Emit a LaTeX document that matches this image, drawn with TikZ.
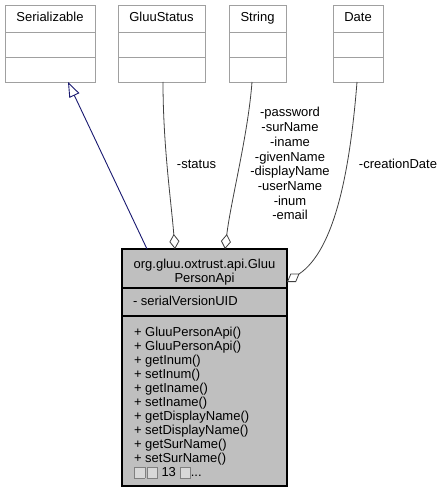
\documentclass[tikz,border=0pt]{standalone}
\usepackage{fontspec}
\setmainfont{Liberation Sans}
\usetikzlibrary{arrows.meta}
\definecolor{boxgray}{HTML}{BFBFBF}
\definecolor{edgegray}{HTML}{404040}
\definecolor{linegray}{HTML}{A0A0A0}
\definecolor{inhblue}{HTML}{191970}
\newcommand\missbox{\raisebox{-1.5pt}{\setlength\fboxsep{0pt}\setlength\fboxrule{0.6pt}\fcolorbox{gray}{boxgray!60}{\rule{0pt}{10pt}\hspace{10pt}}}}
\begin{document}
\begin{tikzpicture}[x=1pt,y=-1pt,
  every node/.style={font=\fontsize{13}{14}\selectfont, inner sep=0pt, outer sep=0pt},
  topbox/.style={draw=linegray, fill=white, line width=0.8pt, minimum height=77pt, anchor=north},
  divline/.style={draw=linegray, line width=0.8pt},
  mainbox/.style={draw=black, fill=boxgray, line width=1.1pt, minimum width=165pt, minimum height=237pt, anchor=north west},
  maindiv/.style={draw=black, line width=1.1pt},
  agg/.style={draw=edgegray, line width=0.8pt, -{Diamond[fill=white, length=15pt, width=10pt, line width=0.8pt]}},
  inh/.style={draw=inhblue, line width=0.9pt, -{Triangle[open, length=15pt, width=11pt, line width=0.9pt]}}
]
\useasboundingbox (0,0) rectangle (443,492);

% top boxes
\node[topbox, minimum width=90pt] (ser) at (50,5) {};
\node[topbox, minimum width=87pt] (gs) at (161.5,5) {};
\node[topbox, minimum width=57pt] (str) at (257.5,5) {};
\node[topbox, minimum width=50pt] (date) at (358,5) {};
\foreach \b in {ser,gs,str,date}{
  \draw[divline] ([yshift=-27pt]\b.north west) -- ([yshift=-27pt]\b.north east);
  \draw[divline] ([yshift=-52pt]\b.north west) -- ([yshift=-52pt]\b.north east);
}
\node[anchor=base] (serT) at (50,21.5) {Serializable};
\node[anchor=base] (gsT) at (161.5,21.5) {GluuStatus};
\node[anchor=base] (strT) at (257.5,21.5) {String};
\node[anchor=base] (dateT) at (358,21.5) {Date};

% main box
\node[mainbox] (main) at (122,249) {};
\draw[maindiv] ([yshift=-39pt]main.north west) -- ([yshift=-39pt]main.north east);
\draw[maindiv] ([yshift=-67pt]main.north west) -- ([yshift=-67pt]main.north east);
\node[anchor=base] (h1) at (204.5,268) {org.gluu.oxtrust.api.Gluu};
\node[anchor=base] (h2) at (204.5,282) {PersonApi};
\node[anchor=base west] (attr) at (133,305) {- serialVersionUID};
\foreach \t [count=\i from 0] in {{+ GluuPersonApi()},{+ GluuPersonApi()},{+ getInum()},{+ setInum()},{+ getIname()},{+ setIname()},{+ getDisplayName()},{+ setDisplayName()},{+ getSurName()},{+ setSurName()}}
  \node[anchor=base west] (m\i) at (134,{336+14*\i}) {\t};
\node[anchor=base west] (more) at (134,476) {\missbox\kern1.5pt\missbox\ 13 \missbox...};

% connectors
\draw[inh] ([xshift=-57.5pt]main.north) -- ([xshift=18pt]ser.south);
\draw[agg] ([xshift=1.5pt]gs.south) .. controls (163,145) and (171,200) .. ([xshift=-29.5pt]main.north);
\draw[agg] ([xshift=-5.5pt]str.south) .. controls (248,135) and (231,200) .. ([xshift=20.5pt]main.north);
\draw[agg] ([xshift=-1pt]date.south) .. controls (350,170) and (335,250) .. ([yshift=85.5pt]main.east);

% labels
\node[anchor=base] (lstatus) at (196.5,168.5) {-status};
\node[anchor=base] (ldate) at (398,168.5) {-creationDate};
\foreach \t [count=\i from 0] in {-password,-surName,-iname,-givenName,-displayName,-userName,-inum,-email}
  \node[anchor=base] (ls\i) at (290,{117+14.7*\i}) {\t};
\end{tikzpicture}
\end{document}
